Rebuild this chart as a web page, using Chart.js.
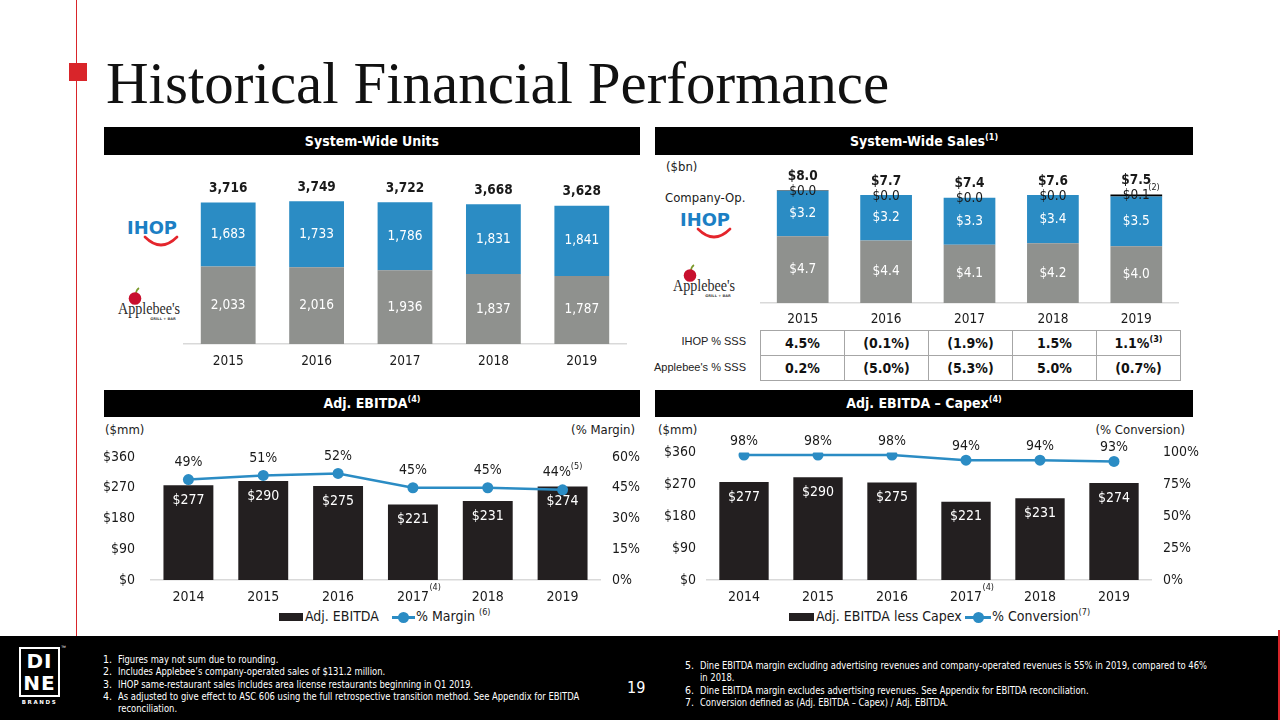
<!DOCTYPE html>
<html><head><meta charset="utf-8">
<title>Historical Financial Performance</title>
<script src="https://cdn.jsdelivr.net/npm/chart.js@4.4.1/dist/chart.umd.min.js"></script>
<style>
html,body{margin:0;padding:0;background:#fff}
body{width:1280px;height:720px;position:relative;overflow:hidden;font-family:'DejaVu Sans Condensed','Open Sans',sans-serif;color:#1a1a1a}
.a{position:absolute;white-space:nowrap}
.hdr{position:absolute;background:#000;color:#fff;font-weight:bold;font-size:14px;text-align:center;height:28px;line-height:28px}
.sup{font-size:9px;line-height:0;position:relative;top:-6px}
canvas{position:absolute}
#title{left:106px;top:51px;font-family:'Liberation Serif','Times New Roman',serif;font-size:59px;line-height:64px;color:#111}
.note{position:absolute;color:#fff;font-family:'Liberation Sans Narrow','DejaVu Sans Condensed',sans-serif;font-size:10.5px;line-height:12px;white-space:nowrap}
.nt{transform:scaleX(0.89);transform-origin:0 0}
table.sss{position:absolute;left:760px;top:330px;width:421px;height:51px;border-collapse:collapse;table-layout:fixed}
table.sss td{border:1.5px solid #A6A6A6;text-align:center;font-weight:bold;font-size:14px;height:24px;padding:0;color:#111}
.rowlab{position:absolute;font-family:'Liberation Sans',Arial,sans-serif;font-size:11px;color:#222;text-align:right;width:100px;white-space:nowrap}
.leg{position:absolute;font-size:14px;line-height:17px;color:#1a1a1a;white-space:nowrap}
</style></head><body>

<!-- frame -->
<div class="a" style="left:76px;top:0;width:1px;height:636px;background:#D9252A"></div>
<div class="a" style="left:69px;top:63px;width:18px;height:18px;background:#D9252A"></div>
<div id="title" class="a">Historical Financial Performance</div>

<div class="hdr" style="left:104px;top:127px;width:536px">System-Wide Units</div>
<div class="hdr" style="left:655px;top:127px;width:538px">System-Wide Sales<span class="sup">(1)</span></div>
<div class="hdr" style="left:104px;top:390px;width:536px;height:27px;line-height:27px">Adj. EBITDA<span class="sup">(4)</span></div>
<div class="hdr" style="left:655px;top:390px;width:538px;height:27px;line-height:27px">Adj. EBITDA – Capex<span class="sup">(4)</span></div>

<!-- logos chart 1 -->
<svg class="a" style="left:126px;top:219px" width="54" height="30" viewBox="0 0 54 30">
 <text x="26" y="15" text-anchor="middle" font-family="'DejaVu Sans',sans-serif" font-weight="bold" font-size="17" fill="#1C7FC4" textLength="50" lengthAdjust="spacingAndGlyphs">IHOP</text>
 <path d="M19 18 Q35 34 51 18" stroke="#E4252C" stroke-width="2.6" fill="none" stroke-linecap="round"/>
</svg>
<svg class="a" style="left:117px;top:287px" width="66" height="36" viewBox="0 0 66 36">
 <path d="M19 7 Q19 3 22 1" stroke="#7a9a2a" stroke-width="1.6" fill="none"/>
 <circle cx="18" cy="11.5" r="6.3" fill="#C8102E"/>
 <text x="32" y="26.5" text-anchor="middle" font-family="'Liberation Serif',serif" font-size="16" fill="#2a2a2a" textLength="62" lengthAdjust="spacingAndGlyphs">Applebee's</text>
 <text x="46" y="32.5" text-anchor="middle" font-family="'DejaVu Sans',sans-serif" font-size="3.6" font-weight="bold" fill="#444">GRILL + BAR</text>
</svg>

<!-- chart 2 side texts -->
<div class="a" style="left:666px;top:159px;font-size:13px;line-height:16px">($bn)</div>
<div class="a" style="left:665px;top:189px;font-size:13px;line-height:17px">Company-Op.</div>
<svg class="a" style="left:679px;top:211px" width="54" height="30" viewBox="0 0 54 30">
 <text x="26" y="15" text-anchor="middle" font-family="'DejaVu Sans',sans-serif" font-weight="bold" font-size="17" fill="#1C7FC4" textLength="50" lengthAdjust="spacingAndGlyphs">IHOP</text>
 <path d="M19 18 Q35 34 51 18" stroke="#E4252C" stroke-width="2.6" fill="none" stroke-linecap="round"/>
</svg>
<svg class="a" style="left:672px;top:264px" width="66" height="36" viewBox="0 0 66 36">
 <path d="M19 7 Q19 3 22 1" stroke="#7a9a2a" stroke-width="1.6" fill="none"/>
 <circle cx="18" cy="11.5" r="6.3" fill="#C8102E"/>
 <text x="32" y="26.5" text-anchor="middle" font-family="'Liberation Serif',serif" font-size="16" fill="#2a2a2a" textLength="62" lengthAdjust="spacingAndGlyphs">Applebee's</text>
 <text x="46" y="32.5" text-anchor="middle" font-family="'DejaVu Sans',sans-serif" font-size="3.6" font-weight="bold" fill="#444">GRILL + BAR</text>
</svg>
<div class="rowlab" style="left:646px;top:335px">IHOP % SSS</div>
<div class="rowlab" style="left:646px;top:361px">Applebee's % SSS</div>
<table class="sss" id="sss"></table>

<!-- chart 3/4 side texts -->
<div class="a" style="left:105px;top:422px;font-size:13px;line-height:16px">($mm)</div>
<div class="a" style="left:535px;top:422px;width:100px;text-align:right;font-size:13px;line-height:16px">(% Margin)</div>
<div class="a" style="left:658px;top:422px;font-size:13px;line-height:16px">($mm)</div>
<div class="a" style="left:1055px;top:422px;width:130px;text-align:right;font-size:13px;line-height:16px">(% Conversion)</div>

<!-- legends -->
<div class="a" style="left:279px;top:613px;width:24px;height:8px;background:#231F20"></div>
<div class="leg" style="left:305px;top:608px">Adj. EBITDA</div>
<div class="a" style="left:392px;top:616px;width:23px;height:2.5px;background:#2B8CC4"></div>
<div class="a" style="left:398px;top:612px;width:11px;height:11px;border-radius:50%;background:#2B8CC4"></div>
<div class="leg" style="left:416px;top:608px">% Margin <span class="sup">(6)</span></div>

<div class="a" style="left:789px;top:613px;width:25px;height:8px;background:#231F20"></div>
<div class="leg" style="left:816px;top:608px">Adj. EBITDA less Capex</div>
<div class="a" style="left:965px;top:616px;width:26px;height:2.5px;background:#2B8CC4"></div>
<div class="a" style="left:972.5px;top:612px;width:11px;height:11px;border-radius:50%;background:#2B8CC4"></div>
<div class="leg" style="left:992px;top:608px">% Conversion<span class="sup">(7)</span></div>

<canvas id="c1" width="480" height="220" style="left:160px;top:155px"></canvas>
<canvas id="c2" width="540" height="170" style="left:655px;top:160px"></canvas>
<canvas id="c3" width="545" height="180" style="left:100px;top:425px"></canvas>
<canvas id="c4" width="552" height="180" style="left:655px;top:425px"></canvas>

<!-- footer -->
<div class="a" style="left:0;top:636px;width:1280px;height:84px;background:#000"></div>
<div class="a" style="left:1278px;top:630px;width:2px;height:90px;background:#D9252A"></div>
<div class="a" style="left:19px;top:647px;width:37px;height:46px;border:2px solid #fff"></div>
<div class="a" style="left:19px;top:650px;width:41px;color:#fff;font:bold 20px/22px 'DejaVu Sans',sans-serif;text-align:center;letter-spacing:1px">DI<br>NE</div>
<div class="a" style="left:19px;top:699px;width:41px;color:#fff;font:bold 5.5px/7px 'DejaVu Sans',sans-serif;text-align:center;letter-spacing:1.6px">BRANDS</div>
<div class="a" style="left:61px;top:644px;color:#fff;font:5px/6px sans-serif">™</div>
<div class="a" style="left:627px;top:678px;color:#fff;font:16px/20px 'DejaVu Sans Condensed','Open Sans',sans-serif">19</div>

<div class="note" style="left:103px;top:653px">1.</div><div class="note nt" style="left:118px;top:653px">Figures may not sum due to rounding.</div>
<div class="note" style="left:103px;top:665px">2.</div><div class="note nt" style="left:118px;top:665px">Includes Applebee’s company-operated sales of $131.2 million.</div>
<div class="note" style="left:103px;top:678px">3.</div><div class="note nt" style="left:118px;top:678px">IHOP same-restaurant sales includes area license restaurants beginning in Q1 2019.</div>
<div class="note" style="left:103px;top:690px">4.</div><div class="note nt" style="left:118px;top:690px">As adjusted to give effect to ASC 606 using the full retrospective transition method. See Appendix for EBITDA<br>reconciliation.</div>
<div class="note" style="left:685px;top:659px">5.</div><div class="note nt" style="left:700px;top:659px">Dine EBITDA margin excluding advertising revenues and company-operated revenues is 55% in 2019, compared to 46%<br>in 2018.</div>
<div class="note" style="left:685px;top:684px">6.</div><div class="note nt" style="left:700px;top:684px">Dine EBITDA margin excludes advertising revenues. See Appendix for EBITDA reconciliation.</div>
<div class="note" style="left:685px;top:696px">7.</div><div class="note nt" style="left:700px;top:696px">Conversion defined as (Adj. EBITDA – Capex) / Adj. EBITDA.</div>

<script>
// ---------------- DATA ----------------
const unitYears = ['2015', '2016', '2017', '2018', '2019'];
const unitsApplebees = [2033, 2016, 1936, 1837, 1787];
const unitsIhop = [1683, 1733, 1786, 1831, 1841];
const unitsTotal = [3716, 3749, 3722, 3668, 3628];

const salesYears = ['2015', '2016', '2017', '2018', '2019'];
const salesApplebees = [4.7, 4.4, 4.1, 4.2, 4.0];
const salesIhop = [3.2, 3.2, 3.3, 3.4, 3.5];
const salesCompanyOp = [0.04, 0.0, 0.0, 0.0, 0.13];
const salesTotal = [8.0, 7.7, 7.4, 7.6, 7.5];
const salesNotes = ['', '', '', '', '(2)'];

const ihopSSS = ['4.5%', '(0.1%)', '(1.9%)', '1.5%', '1.1%'];
const ihopSSSNotes = ['', '', '', '', '(3)'];
const applebeesSSS = ['0.2%', '(5.0%)', '(5.3%)', '5.0%', '(0.7%)'];

const ebitdaYears = ['2014', '2015', '2016', '2017', '2018', '2019'];
const ebitdaYearNotes = ['', '', '', '(4)', '', ''];
const adjEbitda = [277, 290, 275, 221, 231, 274];
const marginPct = [49, 51, 52, 45, 45, 44];
const marginNotes = ['', '', '', '', '', '(5)'];
const ebitdaLessCapex = [277, 290, 275, 221, 231, 274];
const conversionPct = [98, 98, 98, 94, 94, 93];

const dollarTicks = [0, 90, 180, 270, 360];
const marginTicks = [0, 15, 30, 45, 60];
const conversionTicks = [0, 25, 50, 75, 100];

// ---------------- STYLE ----------------
const FONT = "'DejaVu Sans Condensed','Open Sans',sans-serif";
const BLUE = '#2B8CC4', GREY = '#8F918E', DARK = '#231F20', AXIS = '#D9D9D9', TXT = '#1a1a1a';
Chart.defaults.font.family = FONT;
Chart.defaults.color = TXT;
Chart.defaults.animation = false;

const comma = v => String(v).replace(/\B(?=(\d{3})+(?!\d))/g, ',');

// SSS table
(function () {
  const t = document.getElementById('sss');
  const r1 = t.insertRow(), r2 = t.insertRow();
  ihopSSS.forEach((v, i) => { r1.insertCell().innerHTML = v + (ihopSSSNotes[i] ? '<span class="sup">' + ihopSSSNotes[i] + '</span>' : ''); });
  applebeesSSS.forEach(v => { r2.insertCell().textContent = v; });
})();

function xAxis(h, pad, size, extra) {
  return Object.assign({
    grid: { display: false, drawTicks: false },
    border: { display: true, color: AXIS, width: 1.5 },
    ticks: { padding: pad, color: TXT, font: { size: size }, maxRotation: 0, autoSkip: false },
    afterFit(s) { s.height = h; }
  }, extra || {});
}
function valAxis(pos, ticksArr, fmt, pad, width) {
  return {
    position: pos, min: ticksArr[0], max: ticksArr[ticksArr.length - 1],
    grid: { display: false, drawTicks: false }, border: { display: false },
    ticks: { padding: pad, color: TXT, font: { size: 14 }, callback: fmt },
    afterBuildTicks(s) { s.ticks = ticksArr.map(v => ({ value: v })); },
    afterFit(s) { s.width = width; }
  };
}

// ---------------- CHART 1: units ----------------
const unitsPlugin = {
  id: 'unitsLabels',
  afterDatasetsDraw(chart) {
    const ctx = chart.ctx; ctx.save();
    ctx.textAlign = 'center'; ctx.textBaseline = 'middle';
    [0, 1].forEach(di => {
      chart.getDatasetMeta(di).data.forEach((b, i) => {
        ctx.fillStyle = '#fff'; ctx.font = '13.5px ' + FONT;
        ctx.fillText(comma(chart.data.datasets[di].data[i]), b.x, (b.y + b.base) / 2);
      });
    });
    chart.getDatasetMeta(1).data.forEach((b, i) => {
      ctx.fillStyle = TXT; ctx.font = 'bold 13.5px ' + FONT;
      ctx.fillText(comma(unitsTotal[i]), b.x, b.y - 14);
    });
    ctx.restore();
  }
};
new Chart(document.getElementById('c1'), {
  type: 'bar',
  data: { labels: unitYears, datasets: [
    { label: "Applebee's", data: unitsApplebees, backgroundColor: GREY, barPercentage: 0.62, categoryPercentage: 1 },
    { label: 'IHOP', data: unitsIhop, backgroundColor: BLUE, barPercentage: 0.62, categoryPercentage: 1 }
  ]},
  options: {
    responsive: false, animation: false,
    layout: { padding: { top: 10, left: 24, right: 14, bottom: 0 } },
    plugins: { legend: { display: false }, tooltip: { enabled: false } },
    scales: { x: xAxis(31, 9, 13.5, { stacked: true }), y: { stacked: true, display: false, min: 0, max: 4700 } }
  },
  plugins: [unitsPlugin]
});

// ---------------- CHART 2: sales ----------------
const salesPlugin = {
  id: 'salesLabels',
  afterDatasetsDraw(chart) {
    const ctx = chart.ctx; ctx.save();
    ctx.textAlign = 'center'; ctx.textBaseline = 'middle';
    [0, 1].forEach(di => {
      chart.getDatasetMeta(di).data.forEach((b, i) => {
        ctx.fillStyle = '#fff'; ctx.font = '13.5px ' + FONT;
        ctx.fillText('$' + chart.data.datasets[di].data[i].toFixed(1), b.x, (b.y + b.base) / 2);
      });
    });
    chart.getDatasetMeta(2).data.forEach((b, i) => {
      const top = Math.min(b.y, b.base);
      ctx.fillStyle = TXT; ctx.font = '13.5px ' + FONT; ctx.textAlign = 'center';
      const t = '$' + chart.data.datasets[2].data[i].toFixed(1);
      ctx.fillText(t, b.x, top + 1);
      ctx.font = 'bold 13.5px ' + FONT;
      ctx.fillText('$' + salesTotal[i].toFixed(1), b.x, top - 14);
      if (salesNotes[i]) {
        ctx.font = '9px ' + FONT; ctx.textAlign = 'left';
        ctx.fillText(salesNotes[i], b.x + 12, top - 7);
      }
    });
    ctx.restore();
  }
};
new Chart(document.getElementById('c2'), {
  type: 'bar',
  data: { labels: salesYears, datasets: [
    { label: "Applebee's", data: salesApplebees, backgroundColor: GREY, barPercentage: 0.62, categoryPercentage: 1 },
    { label: 'IHOP', data: salesIhop, backgroundColor: BLUE, barPercentage: 0.62, categoryPercentage: 1 },
    { label: 'Company-Op.', data: salesCompanyOp, backgroundColor: '#000', barPercentage: 0.62, categoryPercentage: 1 }
  ]},
  options: {
    responsive: false, animation: false,
    layout: { padding: { top: 8, left: 106, right: 17, bottom: 0 } },
    plugins: { legend: { display: false }, tooltip: { enabled: false } },
    scales: { x: xAxis(27, 8, 13.5, { stacked: true }), y: { stacked: true, display: false, min: 0, max: 9.5 } }
  },
  plugins: [salesPlugin]
});

// ---------------- CHARTS 3/4: combo ----------------
function comboPlugin(lineOffset, lineNotes) {
  return {
    id: 'comboLabels',
    afterDatasetsDraw(chart) {
      const ctx = chart.ctx; ctx.save();
      ctx.textAlign = 'center'; ctx.textBaseline = 'middle';
      chart.getDatasetMeta(0).data.forEach((b, i) => {
        ctx.fillStyle = '#fff'; ctx.font = '14px ' + FONT;
        ctx.fillText('$' + chart.data.datasets[0].data[i], b.x, b.y + 15);
      });
      chart.getDatasetMeta(1).data.forEach((p, i) => {
        const txt = chart.data.datasets[1].data[i] + '%';
        ctx.fillStyle = TXT; ctx.font = '14px ' + FONT;
        const note = lineNotes && lineNotes[i];
        if (note) {
          const w = ctx.measureText(txt).width;
          ctx.font = '9px ' + FONT; const ws = ctx.measureText(note).width;
          const x0 = p.x - (w + ws) / 2;
          ctx.textAlign = 'left';
          ctx.font = '14px ' + FONT; ctx.fillText(txt, x0, p.y - lineOffset);
          ctx.font = '9px ' + FONT; ctx.fillText(note, x0 + w, p.y - lineOffset - 6);
          ctx.textAlign = 'center';
        } else {
          ctx.fillText(txt, p.x, p.y - lineOffset);
        }
      });
      ctx.restore();
    },
    afterDraw(chart) {
      const xs = chart.scales.x, ctx = chart.ctx; ctx.save();
      ctx.textBaseline = 'middle'; ctx.textAlign = 'left'; ctx.fillStyle = TXT;
      ebitdaYearNotes.forEach((n, i) => {
        if (!n) return;
        ctx.font = '14px ' + FONT;
        const w = ctx.measureText(chart.data.labels[i]).width;
        ctx.font = '9px ' + FONT;
        ctx.fillText(n, xs.getPixelForValue(i) + w / 2 + 0.5, xs.top + 8);
      });
      ctx.restore();
    }
  };
}
function comboChart(id, barLabel, bars, lineLabel, line, rightTicks, padTop, leftW, rightW, leftPad, lineOffset, lineNotes) {
  return new Chart(document.getElementById(id), {
    type: 'bar',
    data: { labels: ebitdaYears, datasets: [
      { type: 'bar', label: barLabel, data: bars, backgroundColor: DARK, barPercentage: 0.667, categoryPercentage: 1, yAxisID: 'y', order: 2 },
      { type: 'line', label: lineLabel, data: line, borderColor: BLUE, backgroundColor: BLUE, borderWidth: 2.5,
        pointRadius: 5.5, pointBackgroundColor: BLUE, pointBorderWidth: 0, tension: 0, yAxisID: 'y1', order: 1 }
    ]},
    options: {
      responsive: false, animation: false,
      layout: { padding: { top: padTop, left: 0, right: 0, bottom: 0 } },
      plugins: { legend: { display: false }, tooltip: { enabled: false } },
      scales: {
        x: xAxis(25, 8.5, 14),
        y: valAxis('left', dollarTicks, v => '$' + v, leftPad, leftW),
        y1: valAxis('right', rightTicks, v => v + '%', 12, rightW)
      }
    },
    plugins: [comboPlugin(lineOffset, lineNotes)]
  });
}
comboChart('c3', 'Adj. EBITDA', adjEbitda, '% Margin', marginPct, marginTicks, 32, 51, 45, 16, 17.5, marginNotes);
comboChart('c4', 'Adj. EBITDA less Capex', ebitdaLessCapex, '% Conversion', conversionPct, conversionTicks, 27.5, 52, 56, 11, 14, null);
</script>
</body></html>
